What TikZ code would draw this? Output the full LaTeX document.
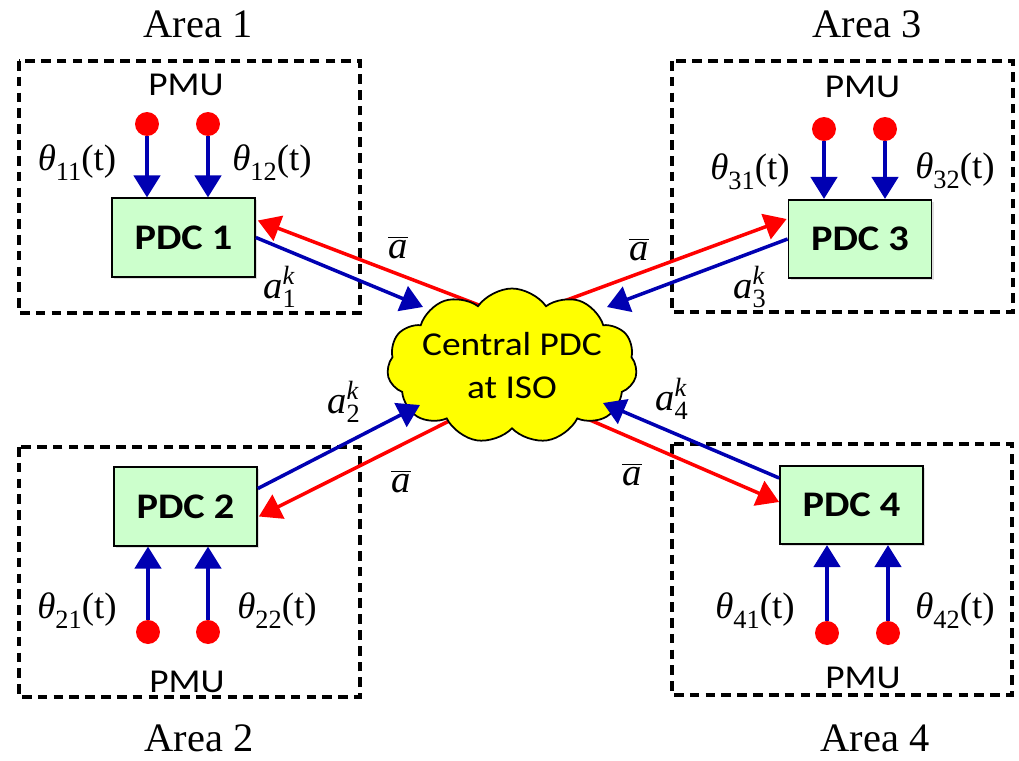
\documentclass[tikz,border=0pt]{standalone}
\usepackage{fontspec}
\setmainfont{Liberation Serif}
\newfontfamily\calfont[FakeStretch=1.12]{Carlito}
\usetikzlibrary{arrows.meta,shapes.symbols,calc,shadows}
\definecolor{arrblue}{RGB}{0,0,178}
\definecolor{arrred}{RGB}{255,0,0}
\definecolor{pdcgreen}{RGB}{204,255,204}
\definecolor{cloudyellow}{RGB}{255,255,0}
\newcommand\thl[1]{\textit{θ}\raisebox{-0.28em}{\fontsize{15}{15}\selectfont #1}(t)}
\newcommand\abar{$\overline{\hbox{\itshape a}}$}
\newcommand\aik[1]{$\hbox{\itshape a}_{\hbox{\fontsize{15}{15}\selectfont #1}}^{\hbox{\fontsize{15}{15}\selectfont\itshape k}}$}
\begin{document}
\begin{tikzpicture}[x=0.02cm,y=-0.02cm,
  area/.style={draw=black,line width=2.1pt,dash pattern=on 5.5pt off 3.5pt},
  pdcbox/.style={draw=black,line width=1pt,fill=pdcgreen,minimum width=2.86cm,minimum height=1.57cm,inner sep=0pt,
     font=\calfont\bfseries\fontsize{20.5}{24}\selectfont,
     drop shadow={opacity=0.25,shadow xshift=1.2pt,shadow yshift=-1.2pt}},
  pmudot/.style={circle,fill=arrred,minimum size=0.48cm,inner sep=0pt},
  bluearr/.style={draw=arrblue,line width=2pt,-{Triangle[length=12.5pt,width=15pt]}},
  redarr/.style={draw=arrred,line width=2pt,-{Triangle[length=12.5pt,width=15pt]}},
  arealab/.style={anchor=base,inner sep=0pt,font=\fontsize{23}{27}\selectfont},
  pmulab/.style={anchor=base,inner sep=0pt,font=\calfont\fontsize{19}{22}\selectfont},
  thlab/.style={anchor=base,inner sep=0pt,font=\fontsize{21}{25}\selectfont},
  alab/.style={inner sep=0pt,font=\fontsize{22}{26}\selectfont},
]
\useasboundingbox (0,0) rectangle (1019,761);

% area frames
\draw[area] (19,61) rectangle (360,313);
\draw[area] (672,61) rectangle (1013,312);
\draw[area] (19,447) rectangle (360,697);
\draw[area] (672,444) rectangle (1012,695);

% area labels
\node[arealab] (area1) at (198,37) {Area 1};
\node[arealab] (area3) at (867,37) {Area 3};
\node[arealab] (area2) at (199,751) {Area 2};
\node[arealab] (area4) at (875,751) {Area 4};

% PDC boxes
\node[pdcbox] (pdc1) at (183.5,237.5) {PDC 1};
\node[pdcbox] (pdc3) at (860,239) {PDC 3};
\node[pdcbox] (pdc2) at (185.5,506.5) {PDC 2};
\node[pdcbox] (pdc4) at (851.5,505) {PDC 4};

% PMU labels
\node[pmulab] (pmu1) at (186,95) {PMU};
\node[pmulab] (pmu3) at (862.5,97) {PMU};
\node[pmulab] (pmu2) at (187,692) {PMU};
\node[pmulab] (pmu4) at (863,688) {PMU};

% PMU dots
\node[pmudot] (d11) at (147,124) {};
\node[pmudot] (d12) at (208,124) {};
\node[pmudot] (d31) at (824,129) {};
\node[pmudot] (d32) at (885,129) {};
\node[pmudot] (d21) at (148,632) {};
\node[pmudot] (d22) at (208,632) {};
\node[pmudot] (d41) at (827,633) {};
\node[pmudot] (d42) at (888,633) {};

\draw[bluearr] (d11.south) -- (d11 |- pdc1.north);
\draw[bluearr] (d12.south) -- (d12 |- pdc1.north);
\draw[bluearr] (d31.south) -- (d31 |- pdc3.north);
\draw[bluearr] (d32.south) -- (d32 |- pdc3.north);
\draw[bluearr] (d21.north) -- (d21 |- pdc2.south);
\draw[bluearr] (d22.north) -- (d22 |- pdc2.south);
\draw[bluearr] (d41.north) -- (d41 |- pdc4.south);
\draw[bluearr] (d42.north) -- (d42 |- pdc4.south);

% theta labels
\node[thlab] (t11) at (77,170) {\thl{11}};
\node[thlab] (t12) at (272,170) {\thl{12}};
\node[thlab] (t31) at (750,179) {\thl{31}};
\node[thlab] (t32) at (955,178) {\thl{32}};
\node[thlab] (t21) at (77,618) {\thl{21}};
\node[thlab] (t22) at (277,618) {\thl{22}};
\node[thlab] (t41) at (755,618) {\thl{41}};
\node[thlab] (t42) at (955,618) {\thl{42}};

% central cloud position
\coordinate (cc) at (512,366);

% red arrows (from cloud to PDCs), drawn under the cloud
\draw[redarr] ($(cc)+(-28,-59)$) -- ($(pdc1.east)+(2,-17)$);
\draw[redarr] ($(cc)+(25,-55)$) -- ($(pdc3.west)+(-1,-20)$);
\draw[redarr] ($(cc)+(-31,39)$) -- ($(pdc2.east)+(1,10)$);
\draw[redarr] ($(cc)+(41,38)$) -- ($(pdc4.west)+(0,-3)$);

\node[cloud,cloud puffs=11,cloud puff arc=110,cloud ignores aspect,draw=black,line width=1pt,fill=cloudyellow,
      minimum width=5.0cm,minimum height=3.1cm,inner sep=0pt] (cloud) at (cc) {};
\node[align=center,inner sep=0pt,font=\calfont\fontsize{19}{24.5}\selectfont] (cloudtext) at (cloud.center) {Central PDC\\at ISO};

% blue arrows (from PDCs to cloud)
\draw[bluearr] (pdc1.east) -- ($(cloud.center)+(-89,-59)$);
\draw[bluearr] (pdc3.west) -- ($(cloud.center)+(95,-59)$);
\draw[bluearr] ($(pdc2.east)+(0,-18)$) -- ($(cloud.center)+(-92,39)$);
\draw[bluearr] ($(pdc4.west)+(0,-27)$) -- ($(cloud.center)+(91,37)$);

% link labels
\node[alab,anchor=base] (ab1) at (398,258) {\abar};
\node[alab,anchor=base] (ab3) at (639,260) {\abar};
\node[alab,anchor=base] (ab2) at (401,492) {\abar};
\node[alab,anchor=base] (ab4) at (632,485) {\abar};
\node[alab,anchor=base west] (ak1) at (263,298) {\aik{1}};
\node[alab,anchor=base west] (ak3) at (733,298) {\aik{3}};
\node[alab,anchor=base west] (ak2) at (327,413) {\aik{2}};
\node[alab,anchor=base west] (ak4) at (655,410) {\aik{4}};
\end{tikzpicture}
\end{document}
